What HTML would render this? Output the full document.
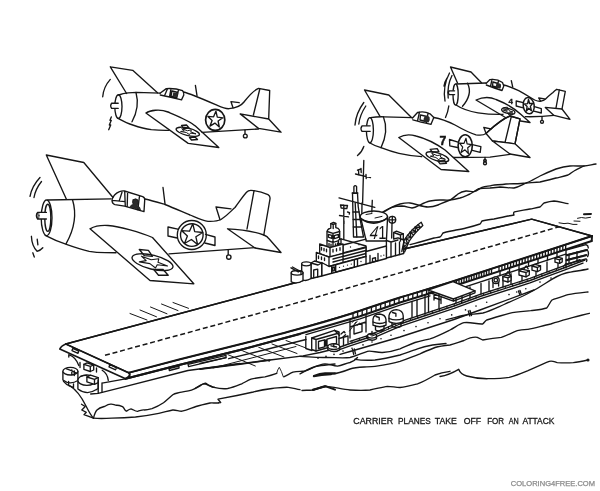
<!DOCTYPE html>
<html><head><meta charset="utf-8"><title>Carrier Planes Take Off For An Attack</title>
<style>
html,body{margin:0;padding:0;background:#fff;}
body{width:600px;height:491px;overflow:hidden;position:relative;font-family:"Liberation Sans",sans-serif;}
svg{position:absolute;left:0;top:0;display:block;will-change:transform;}
.l{fill:none;stroke:#161616;stroke-width:1.35;stroke-linecap:round;stroke-linejoin:round;}
.w{fill:#fff;stroke:#161616;stroke-width:1.35;stroke-linecap:round;stroke-linejoin:round;}
.t{stroke-width:2;}
.h{stroke-width:1;}
.cap{font-family:"Liberation Sans",sans-serif;font-size:9.4px;fill:#141414;stroke:#141414;stroke-width:0.3px;}
.wm{font-family:"Liberation Sans",sans-serif;font-size:7.7px;fill:#8a8a8a;stroke:#8a8a8a;stroke-width:0.25px;}
.num{font-family:"Liberation Sans",sans-serif;font-weight:bold;fill:#141414;}
</style></head><body>
<svg width="600" height="491" viewBox="0 0 600 491">
<rect width="600" height="491" fill="#fff"/>

<!-- ===== PLANE A (top-left) ===== -->
<g id="planeA" class="l">
<path d="M110.3,66.8 L132.7,70.3 L157.5,92.7 M110.3,66.8 L126.6,93.5"/>
<path d="M110.3,79.4 Q103.5,87 102.7,96.8"/>
<path d="M111.3,117 L110,120.3 L111.3,120.3 L109.3,125 L110.7,125 L108.7,129.7"/>
<ellipse cx="118.4" cy="106.6" rx="3.6" ry="11.8"/>
<path class="w" d="M118.2,103.2 L111.6,103.2 Q109.8,105.8 111.6,108.4 L118.2,108.4"/>
<path d="M136,92.5 Q140,107 132,121.8"/>
<path d="M118.7,95 Q123,93.3 128,92.9 L136.5,92.4 L160,93.2"/>
<path d="M160,93.2 L166.3,88.6 Q175,88 182.6,90.7 Q184.2,92.5 183.8,95 L181.6,99.6 M160.2,95 Q170,97 181.6,99.8 M167.5,88.8 L164.5,95.8 M171,88.6 L169.5,96.8 M178.5,89.8 L176.5,98.5 M172,91 L178,92.5 L176.8,97.5 L171,96.2 Z"/>
<path d="M173.3,92.2 L178,93.3 L177,97.2 L172.5,96.2 Z" fill="#2a2a2a" stroke="none"/>
<path d="M183.5,92 C190,93.5 205,100 215.7,104.7 C221,107 225,109 229,108.7 C236,108 241,106 244,102 C248,97 253,90.5 258.5,88.4 L269.7,90.5 L268.7,118.5"/>
<path d="M259.8,89 L253.4,115"/>
<path d="M231,101.7 L239.2,102.7 M231,101.7 L233,107.8"/>
<path d="M240.2,113.9 L268.7,119 L281,132.2 L258.5,128.4 Z"/>
<path d="M118,118.3 C124,121.5 128,123.5 132.7,125 C140,127.5 146,129 151.3,129.7 C158,130.4 164,130.5 169,130.4"/>
<path d="M202,132.3 L258.5,129"/>
<path d="M245,130.2 L245,134"/><circle cx="245.3" cy="136" r="1.9"/>
<ellipse cx="215.2" cy="119.9" rx="9.6" ry="10.5" stroke-width="1.7"/>
<path d="M215.9,111.2 L217.3,117.1 L222.9,117.8 L218.1,121.0 L219.3,127.0 L214.9,123.1 L210.0,126.1 L212.1,120.5 L207.9,116.4 L213.6,116.8 Z"/>
<path d="M145.9,113 C150,110.3 160,108.8 168,112 C180,117 190,121 195.4,126.1 L218.8,147.5 L188.2,143.4 Z"/>
<path d="M195.4,85.4 L197,95.6"/>
<!-- wing insignia -->
<path d="M181.5,125.5 L186.5,125 L189,128 L183.5,128.5 Z M189.5,137.5 L195,137 L197.5,139.5 L191.5,140 Z"/>
<ellipse cx="187.8" cy="131.8" rx="12" ry="3.7" transform="rotate(14 187.8 131.8)"/>
<path d="M191.2,130.2 L190.8,131.9 L196.0,133.9 L190.4,133.1 L189.5,134.7 L186.4,132.5 L180.6,131.5 L184.3,130.9 L181.7,128.7 L187.1,130.6 Z" stroke-width="1"/>
</g>

<!-- ===== PLANE B (large left) ===== -->
<g id="planeB" class="l">
<path d="M46.3,155 L83.8,162.5 L113,197.5 M46.3,155 L66.3,199"/>
<path d="M40,177.5 Q32,186 30,196.3 M41.5,181.5 Q35.5,189 34,197.5"/>
<path d="M31.4,236.3 Q31.8,246 37.1,251.3 Q40.5,250.5 42.8,247.8 M37.2,239.2 l0.7,5.6 M32.8,252.8 l1.5,4.2"/>
<ellipse cx="46.6" cy="217.8" rx="5.4" ry="17.8"/>
<ellipse cx="47.8" cy="217.8" rx="3" ry="13.6"/>
<path class="w" d="M46.4,212.4 L37.6,212.4 Q35.2,215.7 37.6,219 L46.4,219"/><ellipse cx="38" cy="215.7" rx="1" ry="3.2" stroke-width="0.9"/>
<path d="M72.5,199.8 Q79,221 66,243.9"/>
<path d="M47.8,200 L111,198.8"/>
<path d="M112,200 C112.5,196.5 116,193 119,191.8 C121,191 123,190.8 124.5,191 L142.7,196.7 Q145.2,197.8 144.7,200.2 L144,211.5 M112,200 C112,202.5 113,204 115,204.6 L124.5,206.2 L144,211.6 M124.7,191.2 L125.3,206.2 M122,192.3 L119.3,200.6 M112.3,200.3 L125,201.6 M127.6,192.3 L127.2,206.6 M139.5,196 L137.8,210"/>
<path d="M133,199.8 Q135.8,197.6 138,200 Q139.3,203 137.3,205.4 Q140,206.5 140.5,209.8 L130,207 Q130.8,204.6 133.2,204.4 Q131.8,202 133,199.8 Z" fill="#2a2a2a" stroke-width="0.8"/>
<path d="M145,199 C152,200.5 160,203 165,204.5 C175,208.5 185,213 190,215 C197,218 203,221 208,221.3 C214,221.5 218,221 221,219.5 C228,215 232,210 235,207.5 C239.5,201.5 243.5,195.5 246.5,192.3 Q248.3,190.3 251,190.4 C257,190.8 263.5,192.6 268,194.6 Q270.4,196 270,198.8 L263.8,235"/>
<path d="M254,190.8 L247,229"/>
<path d="M216,207 L231,208.8 M216,207 L220,219.8"/>
<path d="M227.5,228.8 Q248,229.5 263.8,235 Q267.5,236.5 269,238.8 L281,252.5 L255,248 Z"/>
<path d="M45.2,235.4 C52,239 60,242.5 67.8,244.9 C75,247.4 82,249.6 89.2,251.3 C95,252.3 100,252.6 105,252.7 L116,252.7"/>
<path d="M169,253.8 L255,247.6"/>
<path d="M228.2,250 L228.2,254.5"/><circle cx="228.8" cy="257" r="2.2"/>
<circle cx="191.8" cy="235" r="14.5"/><circle cx="191.8" cy="235" r="11.3"/>
<path d="M192.8,223.8 L194.7,231.6 L202.7,232.5 L195.9,236.8 L197.6,244.6 L191.4,239.5 L184.5,243.5 L187.4,236.0 L181.5,230.6 L189.5,231.2 Z"/>
<path d="M177.8,229.2 L168,227 L168,236 L177.2,238 M205.5,234.3 L215,237 L215,245.5 L204.8,243"/>
<path d="M163,187.5 L165,203.8"/>
<path d="M90,228.8 C95,226 100,225 108,225.5 C120,226.5 140,232 152.5,237.5 L193.8,283.8 L150,280.5 Z"/>
<path class="w" d="M139.3,249.5 L148.4,250.3 L152.5,256.3 L144.4,255.7 Z M153.6,269.3 L162.8,269.3 L168.2,275.2 L158.5,275.2 Z"/>
<ellipse cx="152.5" cy="262.2" rx="21" ry="7" transform="rotate(13.7 152.5 262.2)"/>
<path d="M158.8,258.8 L158.0,262.3 L167.5,266.0 L157.2,264.7 L155.5,268.0 L149.9,263.6 L139.3,261.9 L146.2,260.6 L141.4,256.2 L151.2,259.8 Z" stroke-width="1.1"/>
</g>

<!-- ===== PLANE D (top-right, "4") ===== -->
<g id="planeD" class="l">
<path d="M450.5,67 L471,72 L481.5,82.8 M450.5,67 L457.5,83"/>
<path d="M449.5,73 Q442.5,86 445,101 M452,75.5 Q446.8,86 448.2,98 M447,78 Q444.5,82 444,86"/>
<path d="M448.8,106 Q448,112 445.5,117.5"/>
<ellipse cx="455.6" cy="94.5" rx="2.6" ry="10.6"/>
<path class="w" d="M454.6,90.8 L449.2,90.8 Q447.4,92.7 449.2,94.6 L454.6,94.6"/>
<path d="M467.5,83.2 Q473,94 462.5,106.3"/>
<path d="M456,84 L486,83"/>
<path d="M486,83.4 L490,79.6 Q497,78.6 502.5,82.5 L503.8,86 L502,90.5 M486.3,85 Q494,88 502,90.5 M492,79.5 L490.5,86.5 M498.5,80.5 L497,89 M493,82 L498,83.5 L497.5,87.5 L492.5,86 Z"/>
<path d="M496.6,83.6 Q499.4,82.8 501,84.6 Q501.4,87 500.2,88.8 L495.8,87.6 Q495.6,85.2 496.6,83.6 Z" fill="#2a2a2a" stroke="none"/>
<path d="M503.8,85 C510,86.5 516,89.5 520,91.3 C526,94.5 531,98 534.7,100 C537,101 539,101.5 541,101.2 C543,100.8 544.5,100 545.3,99.3 C548,96.5 550.5,94.5 552.7,92.7 C554,91.3 555.5,90 556.7,89.3 L565.3,91.3 L562,109"/>
<path d="M559.3,90 L556,107.8"/>
<path d="M511.3,80.7 L512.7,86.9"/>
<path d="M538.7,98 L544.7,98.8 M538.7,98 L540.7,101.2"/>
<path d="M545.3,107.4 L562,109 L570,119.3 L554,115.4 Z"/>
<path d="M456,105 C462,109 470,111.5 478,112.8 C486,114 494,114.5 503,114.3"/>
<path d="M525.3,116.7 Q540,117 554,115.4"/>
<path d="M542,117 L542,120.4"/><circle cx="542" cy="121.8" r="1.5"/>
<ellipse cx="528.7" cy="105.7" rx="5.5" ry="8.2" transform="rotate(-8 528.7 105.7)" stroke-width="1.5"/>
<path d="M528.5,99.3 L529.6,103.5 L532.7,103.4 L530.4,106.4 L531.4,110.7 L528.8,108.3 L526.4,111.1 L527.1,106.6 L524.5,104.0 L527.6,103.7 Z"/>
<path d="M523.4,102.6 L516.2,101 L516.2,106 L523.2,107.8 M534.4,106.7 L541.3,108.6 L541.3,113 L533.8,111.2"/>
<path d="M476,100 C482,97.3 490,96.8 496,99.5 C505,103 515,109 521,114.5 L530,122.5 L508,119 Z"/>
<path d="M503.8,107.6 L507.4,107.2 L508.6,109 L505,109.4 Z M508,113.2 L511.8,112.9 L513,114.6 L509.4,114.9 Z" stroke-width="1"/>
<ellipse cx="508.3" cy="111" rx="6.8" ry="2.5" transform="rotate(15 508.3 111)"/>
<path d="M503.5,110 L507,110.4 L508.5,109.2 L509.5,111 L513,112 L509.5,112.2 L508.5,113 L507.2,111.8 Z" stroke-width="0.9"/>
</g>
<text class="num" x="508.4" y="104" font-size="8" stroke="#141414" stroke-width="0.3">4</text>

<!-- ===== PLANE C (middle-right, "7") ===== -->
<g id="planeC" class="l">
<path d="M364.5,90 L388.8,95 L411.5,117.5 M364.5,90 L380,116.3"/>
<path d="M363.8,102.5 Q356,113 355,125 M365.8,106 Q359.8,115 358.8,124"/>
<path d="M363.8,146.5 Q362,152 357.5,155.5"/>
<ellipse cx="369.9" cy="130.2" rx="3.5" ry="12.6"/>
<path class="w" d="M370.2,125.8 L362,125.8 Q360,128.5 362,131.3 L370.2,131.3"/>
<path d="M383.4,116.8 Q389,131 381,147.7"/>
<path d="M370.4,117.6 Q377,116.6 384.2,116.8 L412.5,117.6"/>
<path class="w" d="M486,133.5 C492,128 500,120 510,116 L520,118.8 L515,143.8 L492.5,141 Z"/>
<path d="M412.5,118 L417.5,112.5 Q424,110.8 430,113.8 L433.8,117.5 L431,124.3 M412.8,119.8 Q420,122 431,124.3 M419.5,112.2 L417.5,121 M428,113 L426.5,123.2 M420.5,115 L427,116.5 L426,121.5 L420,120 Z"/>
<path d="M424.6,116.4 Q427.5,115 429.6,117.2 Q430.4,120 428.6,122.6 L423.6,121.4 Q423.2,118.4 424.6,116.4 Z" fill="#2a2a2a" stroke="none"/>
<path d="M433.8,117.5 C440,118.5 448,121.5 455,125 C462,129 470,133 476,134.8 C480,135.5 484,135 486,133.5 C492,128 500,120 510,116 L520,118.8 L515,143.8"/>
<path d="M511.3,116.6 L505,142.5"/>
<path d="M483.8,127.5 L491,128.8 M483.8,127.5 L486,133.3"/>
<path class="w" d="M492.5,141 L515,143.8 L530,157.5 L510,154 Z"/>
<path d="M369.5,142.8 C373,145 377,146.5 381,147.7 C387,150 393,152 398.9,153.4 C406,155 414,156.2 421.7,156.7"/>
<path d="M452,157.5 L490,157.2 L510,154.3"/>
<path d="M485,157.4 L485,161"/><circle cx="485" cy="160.6" r="1.3"/><circle cx="485" cy="163.2" r="1.5"/>
<ellipse cx="465.2" cy="145.8" rx="7.1" ry="11" stroke-width="1.6"/>
<path d="M466.0,138.3 L467.1,143.8 L471.5,144.7 L467.7,147.8 L468.4,153.5 L465.0,149.8 L461.1,152.5 L462.7,147.1 L459.5,143.1 L464.0,143.4 Z" stroke-width="1.2"/>
<path d="M458,142.1 L449.5,139.5 L449.8,145.8 L457.4,147.5 M472.3,144.6 L480.9,146.7 L480.2,152.3 L472.3,150.4"/>
<path class="w" d="M398.8,137.5 C403,135 410,134.3 416,136 C428,139 438,145 445,150 L468.8,171.5 L441,169.5 Z"/>
<path d="M430.2,149.3 L437.2,148.7 L438.9,151.6 L432.5,152.2 Z M437.8,160.9 L444.8,160.6 L446.5,163.3 L440.1,163.8 Z"/>
<ellipse cx="437.4" cy="156.8" rx="11.8" ry="3.9" transform="rotate(17 437.4 156.8)"/>
<path d="M440.9,155.2 L440.4,157.1 L445.4,159.3 L439.9,158.3 L438.9,159.9 L435.9,157.5 L430.3,156.2 L434.0,155.7 L431.6,153.3 L436.8,155.5 Z" stroke-width="1"/>
</g>
<text class="num" x="439.6" y="144.6" font-size="12.2" stroke="#141414" stroke-width="0.5">7</text>


<!-- ===== WAKE / HORIZON LINES ===== -->
<g id="wake" class="l" stroke-width="1.15">
<path d="M381,213 C384,211 387,209.5 390,208 C393,206.5 396.5,205 400,204 C403.5,203.2 407,202.8 410,203 C413,203.4 415.5,204.3 418,205 C421.5,206 425,207 428,207 C431.5,207 435,206.2 438,205 C442,203.3 446,201.5 450,200 C453,198.5 455.5,196 458,194 C460.5,192.3 463,191.4 466,191 C469,190.8 471.5,191.8 474,191.6 C477,191 479.5,188.6 482,187.3 C486,186 489,186.2 492,185.3 C497,184.8 501,184.6 506,184 C513,183.6 520,184 526,183 C531,181.3 535.5,178.3 540,176 C545.5,173.4 551,171 556,169 C561,167.4 565.5,166.4 570,166 C575,165.8 580,166.2 584,166 C588,165.6 592,164.6 596,164"/>
<path d="M384,212 C387,210 389.5,208.4 392,207.4 C395.5,206.3 399,206 402,206 C405.5,206.3 409,207.6 412,208 C415,207.8 417.5,206.3 420,205 C423.5,203.2 427,201.6 430,201 C433.5,200.4 437,200 440,200 C443.5,200 447,200.2 450,200 C453.5,199.6 457,198.8 460,198 C463.5,196.8 467,195.2 470,194 C473,192.6 475.5,190.4 478,189 C482,188 486,188 490,188 C493.5,187.6 497,187.2 500,187 C505,187 510,188.2 514,188 C518.5,187 522,184.8 526,183 C531,182.6 535.5,182.6 540,182 C545.5,180.8 551,179.6 556,178 C560.5,177 564.5,176.4 568,175 C570.5,173.8 572,172 574,171 C577.5,169 581,167.5 584,166"/>
<path d="M410,244.6 C413,243.6 417,243 420,242 C425,240.6 429,239.4 434,238 C436,237.6 438,237.5 440,237 C441.5,236 442,234.2 443,233 C447,231.6 452,231 456,230 C459.5,229.4 463,228.8 466,228 C471,226.8 476,225.4 480,224 C481,223 481.3,221.8 482,221 C486,220.2 490,219.6 494,219 C499,218 504,217 508,216 C510,215.7 512,215.4 514,215 C513.2,213 513.5,212.3 514.5,211.8 C520,210.6 525,210 530,209 C533.5,208.3 537,207.8 540,207 C541.8,205.5 542.6,204 544,203 C547.5,202 551,201.2 554,201 C559,201.3 564,203 568,203.6"/>
<path d="M559,222.8 l5,0.8 l4,-0.4 l5,1.2 l4,0 M577.5,218.3 l4,-0.8 l4,0.6 l5,-0.8 M574,221 l6,0.3" stroke-width="1"/>
<path d="M584,214.3 l7,-0.4" class="t"/>
</g>

<!-- ===== CARRIER DECK ===== -->
<g id="deck" class="l">
<!-- deck surface -->
<path class="w" stroke="none" d="M65.8,344 L300,281.5 L404,249 L531.7,219.2 L592,236 L454,281 L400,297.5 L350,314 L290,331.3 L240,344.3 L180,359.3 L129,372.8 Z"/>
<path d="M65.8,344 L300,281.5 M404,249 L531.7,219.2 L592,236"/>
<path d="M65.8,344 L128.5,372.8 M65.8,344 Q61,346 59.8,349 L125,378.6" stroke-width="1.7"/>
<path class="t" d="M129,372.6 L180,359.3 L240,344.3 C258,339.5 272,336.5 290,331.3 C310,326 330,320.5 350,314 C368,308 384,302.5 400,297.5 C418,292 436,287 454,281 L592,236"/>
<path class="t" d="M129,372.6 Q131.5,376 125.5,378.8 L180,364.8 L240,350 L300,334"/>
<path d="M72.8,348.4 L78.8,351.1 L78,353.3 L72,350.6 Z M109.8,364.6 L116.4,367.6 L115.6,369.9 L109,366.9 Z"/>
<!-- dashed centre line -->
<path d="M105,355.3 L300,302 L430,264 L559,226.8" stroke-dasharray="5 2.8" stroke-width="1.5" stroke-linecap="butt"/>
<!-- short deck lines -->
<path class="h" d="M130,313.5 L147,320 M140,310 L156.5,316.8 M150.5,307 L167,313.8 M161.5,304 L178,310.6 M173,302.5 L188.5,308.3"/>
</g>

<!-- ===== HULL SIDE ===== -->
<g id="hull" class="l">
<path class="t" d="M125.5,378.8 L180.0,364.8 L240.0,350.0 L300.0,333.8 L360.0,316.2 L400.0,302.5 L454.0,286.0 L565.0,249.8 L591.7,241.0"/>
<path class="t" d="M592,236 L591.7,241"/>
<path d="M456.5,281.0 L456.5,284.9 M459.0,280.2 L459.0,284.1 M461.5,279.4 L461.5,283.3 M464.0,278.5 L464.0,282.4 M466.5,277.7 L466.5,281.6 M469.0,276.9 L469.0,280.8 M471.5,276.1 L471.5,280.0 M474.0,275.3 L474.0,279.2 M476.5,274.5 L476.5,278.4 M479.0,273.6 L479.0,277.5 M481.5,272.8 L481.5,276.7 M484.0,272.0 L484.0,275.9 M486.5,271.2 L486.5,275.1 M489.0,270.4 L489.0,274.3 M491.5,269.6 L491.5,273.5 M499.0,267.1 L499.0,271.0 M501.9,266.2 L501.9,270.1 M504.8,265.2 L504.8,269.1 M507.7,264.3 L507.7,268.2 M510.6,263.3 L510.6,267.2 M513.5,262.4 L513.5,266.3 M516.4,261.5 L516.4,265.3 M519.3,260.5 L519.3,264.4 M522.2,259.6 L522.2,263.5 M525.1,258.6 L525.1,262.5 M528.0,257.7 L528.0,261.6 M530.9,256.7 L530.9,260.6 M533.8,255.8 L533.8,259.7 M536.7,254.8 L536.7,258.7 M539.6,253.9 L539.6,257.8 M542.5,252.9 L542.5,256.8 M545.4,252.0 L545.4,255.9 M548.3,251.1 L548.3,254.9 M551.2,250.1 L551.2,254.0 M554.1,249.2 L554.1,253.1 M557.0,248.2 L557.0,252.1 M559.9,247.3 L559.9,251.2 M562.8,246.3 L562.8,250.2 M565.7,245.4 L565.7,249.3"/>
<path d="M353.0,313.6 L353.0,318.0 M357.6,312.1 L357.6,316.6 M362.2,310.6 L362.2,315.1 M366.8,309.1 L366.8,313.6 M371.4,307.5 L371.4,312.0 M376.0,306.0 L376.0,310.4 M380.6,304.5 L380.6,308.8 M385.2,303.0 L385.2,307.3 M389.8,301.5 L389.8,305.7 M394.4,299.9 L394.4,304.1 M399.0,298.4 L399.0,302.5 M403.6,297.0 L403.6,301.1 M408.2,295.6 L408.2,299.7 M412.8,294.2 L412.8,298.3 M417.4,292.8 L417.4,296.9 M422.0,291.4 L422.0,295.5 M426.6,290.0 L426.6,294.1"/>
<path d="M306.0,334.6 L360.0,318.8 L400.0,305.1 L430.0,295.9"/>
<path d="M200.0,368.9 L270.0,360.0 L303.0,355.8 L320.0,352.5 L336.0,348.5 L350.0,343.5 L370.0,337.0 L400.0,324.0 L454.0,306.0 L480.0,296.5 L530.0,280.5 L546.0,274.5 L565.0,267.5 L585.0,260.0"/>
<path d="M336.0,350.9 L350.0,345.9 L370.0,339.4 L400.0,326.4 L454.0,308.4 L480.0,298.9 L530.0,282.9 L546.0,276.9 L565.0,269.9 L583.0,263.1"/>
<path d="M350.0,341.3 L370.0,334.8 L400.0,321.8 L454.0,303.8 L480.0,294.3 L530.0,278.3 L546.0,272.3 L565.0,265.3 L580.0,259.7"/>
<path d="M340.0,354.4 L350.0,351.5 L400.0,337.0 L454.0,319.5 L480.0,310.0 L534.0,290.0"/>
<path d="M412.0,301.4 L412.0,317.8 M417.0,299.9 L417.0,316.1 M425.0,295.7 L425.0,313.5 M428.5,294.6 L428.5,312.3 M439.0,293.2 L439.0,308.8 M456.0,291.5 L456.0,303.1 M462.0,289.6 L462.0,300.9 M470.0,287.0 L470.0,298.0 M481.0,283.4 L481.0,294.0 M489.0,280.8 L489.0,291.4 M503.0,276.2 L503.0,286.9 M511.0,273.6 L511.0,284.4 M522.0,270.0 L522.0,280.9 M536.0,265.5 L536.0,276.1 M547.0,261.9 L547.0,271.9 M558.0,258.3 L558.0,267.9 M569.0,254.7 L569.0,263.8 M577.0,252.0 L577.0,260.8"/>
<path class="h" d="M352.0,340.7 L352.0,342.9 M359.3,338.3 L359.3,340.5 M366.6,335.9 L366.6,338.1 M373.9,333.1 L373.9,335.3 M381.2,329.9 L381.2,332.1 M388.5,326.8 L388.5,329.0 M395.8,323.6 L395.8,325.8 M403.1,320.8 L403.1,323.0 M410.4,318.3 L410.4,320.5 M417.7,315.9 L417.7,318.1 M425.0,313.5 L425.0,315.7 M432.3,311.0 L432.3,313.2 M439.6,308.6 L439.6,310.8 M446.9,306.2 L446.9,308.4 M454.2,303.7 L454.2,305.9 M461.5,301.1 L461.5,303.3 M468.8,298.4 L468.8,300.6 M476.1,295.7 L476.1,297.9 M483.4,293.2 L483.4,295.4 M490.7,290.9 L490.7,293.1 M498.0,288.5 L498.0,290.7 M505.3,286.2 L505.3,288.4 M512.6,283.9 L512.6,286.1 M519.9,281.5 L519.9,283.7 M527.2,279.2 L527.2,281.4 M534.5,276.6 L534.5,278.8 M541.8,273.9 L541.8,276.1 M549.1,271.2 L549.1,273.4 M556.4,268.5 L556.4,270.7 M563.7,265.8 L563.7,268.0 M571.0,263.1 L571.0,265.3 M578.3,260.3 L578.3,262.5"/>
<path d="M456.0,289.9 L565.0,254.4 L566.0,254.1"/>
<path d="M500.0,271.3 L500.0,275.6 M509.5,268.2 L509.5,272.5 M519.0,265.1 L519.0,269.4 M528.5,262.0 L528.5,266.3 M538.0,258.9 L538.0,263.2 M547.5,255.8 L547.5,260.1 M557.0,252.7 L557.0,257.0"/>
<g fill="#141414" stroke="none"><circle cx="318" cy="358.3" r="0.8"/><circle cx="326" cy="356.4" r="0.8"/><circle cx="334" cy="354.4" r="0.8"/><circle cx="343" cy="351.1" r="0.8"/><circle cx="352" cy="348.3" r="0.8"/><circle cx="363" cy="344.9" r="0.8"/><circle cx="372" cy="342.0" r="0.8"/><circle cx="381" cy="338.8" r="0.8"/><circle cx="391" cy="335.2" r="0.8"/><circle cx="404" cy="330.6" r="0.8"/><circle cx="416" cy="326.6" r="0.8"/><circle cx="428" cy="322.7" r="0.8"/><circle cx="440" cy="318.8" r="0.8"/><circle cx="451.7" cy="314.9" r="0.8"/><circle cx="465.5" cy="309.9" r="0.8"/><circle cx="476" cy="306.1" r="0.8"/><circle cx="486.7" cy="302.3" r="0.8"/><circle cx="509" cy="294.6" r="0.8"/><circle cx="516.7" cy="292.0" r="0.8"/><circle cx="525.8" cy="288.8" r="0.8"/><circle cx="540" cy="282.1" r="0.8"/><circle cx="551" cy="278.1" r="0.8"/></g>
<path d="M352.5,349.5 l1.2,4.8 M354.3,349 l1.2,4.8 M468.3,311 l1.5,5 M470,310.5 l1.5,5 M518.5,291 l1.2,3.6 M520,290.5 l1.2,3.6"/>
</g>
<!-- ===== HULL DETAILS ===== -->
<g id="hulldetail" class="l">
<!-- shadow grid under overhang (stern-mid) -->
<path d="M228.7,358.7 L280,346 L306,339.5 M200,363.3 L226,357.6 M200,369.3 L240,364.3 L270,360"/>
<path d="M228,354.7 L255.3,366 M242.7,350.9 L269.3,361.3 M258.7,347.3 L284,357 M272,344 L297,353.5 M286,340.5 L306,348" class="h"/>
<path d="M213,368 L296,346.5" class="h"/>
<!-- hangar opening / boxes -->
<path d="M305.8,336.5 L305.8,348.5 M305.8,348.5 L312,350.5"/>
<path class="w" d="M311.7,338 L311.7,349.5 L316,351 L339,344.5 L339,332 L334.5,330.3 Z"/>
<path d="M311.7,338 L316,339.5 L339,333 M316,339.5 L316,351 M318.5,341.5 L324.5,339.8 L324.5,346.8 L318.5,348.5 Z M327,339.2 L336.5,336.5 L336.5,343.3 L327,346 Z M325.8,340 L325.8,346"/>
<path d="M334.5,330.3 L339.5,335.5 M341,334 l3,-2.5 l1,1.2 M343,337 l2.5,-2.2"/>
<path d="M339,338.5 L348,336 L348,343 M343.5,337.5 L343.5,345.5"/>
<!-- tub 1 -->
<path class="w" d="M327.8,346.8 L327.8,349.5 Q333.8,353.8 339.8,349.6 L339.8,346.8 Z"/>
<ellipse class="w" cx="333.8" cy="346.6" rx="6" ry="2.9"/>
<path d="M331,345.8 L336.5,347 M333.8,344.3 L333.8,347"/>
<!-- tub 2 -->
<path class="w" d="M367.6,336 L367.6,338.6 Q372,341.8 376.5,338.7 L376.5,336 Z"/>
<ellipse class="w" cx="372" cy="335.8" rx="4.5" ry="2.3"/>
<path d="M372,331.5 L372,336 M370,334.6 L374,335.4"/>
<!-- mid structure lines -->
<path d="M350,320.5 L350,338 M350,327 L366,322 M354,325.8 L354,334 L362,331.6 L362,323.4 M366,315.5 L366,332"/>
<path d="M352,322.5 l2.6,-2.4 M354.6,324 l2.6,-2.4 M357.2,325.3 l2.4,-2.2 M349.5,331 L356,322" class="h"/>
<!-- turret B -->
<path class="w" d="M373,319 Q373.8,314.2 379.5,314 Q385.5,314.6 386,319.5 L386,325.2 Q380,328.2 373,325.2 Z"/>
<path d="M373,322 Q380,325 386,322 M376,316.5 l3.2,1 l0,2.6 M375.5,326.2 L375.5,330 Q380,332.2 384,330 L384,326"/>
<!-- turret C (bigger, near 390-403) -->
<path class="w" d="M389,315.5 Q390,310 396.5,309.6 Q403,310.3 403.2,315.8 L403.2,321.6 Q396.5,325.2 389,321.6 Z"/>
<path d="M389,318.3 Q396,321.5 403.2,318.3 M392.5,312.5 l3.4,1 l0,2.8 M392,323 L392,326.5 Q396.5,328.5 401,326.3 L401,322.6"/>
<!-- elevator region posts handled in gen -->
<!-- elevator -->
<path class="w" d="M428,290 L453,281.7 L475,290.8 L453.4,299 Z"/>
<path d="M428.3,292 L453.4,301.2 L475,292.8 M453.4,299 L453.4,301.2 M475,290.8 L475,292.8 M434,294.2 L434,300 M441,296.8 L441,303.5 M434,297.5 L441,300"/>
<!-- director circle -->
<circle class="w" cx="495.8" cy="280.2" r="3.4"/><circle cx="495.8" cy="280.2" r="1.8"/>
<path d="M493,283 L493,287.5 M498.6,282.5 L498.6,286"/>
<!-- boxes on gallery (right) -->
<path class="w" d="M519,270.8 L522,269.2 L529.3,270.8 L529.3,275 L526,276.8 L519,275 Z"/><path d="M519,270.8 L526,272.5 L529.3,270.8 M526,272.5 L526,276.8"/>
<path class="w" d="M532,266 L535,264.4 L540.5,265.8 L540.5,270 L537.4,271.6 L532,270.2 Z"/><path d="M532,266 L537.4,267.5 L540.5,265.8 M537.4,267.5 L537.4,271.6"/>
<path class="w" d="M555,258.6 L557.6,257.2 L562.2,258.4 L562.2,262 L559.6,263.4 L555,262.2 Z"/><path d="M555,258.6 L559.6,259.8 L562.2,258.4 M559.6,259.8 L559.6,263.4"/>
<path class="w" d="M503,276.5 L506,275 L511,276.3 L511,280.5 L508,282 L503,280.7 Z"/><path d="M503,276.5 L508,277.8 L511,276.3 M508,277.8 L508,282"/>
<path d="M505.5,274.8 l2.5,-3.2 l2.5,3.8 M524,268.5 l2.2,-2.6 l2,3"/>
<!-- bow flare -->
<path d="M566,250 L586,244.6 Q588.5,245.5 588.2,248 M566.5,254.8 L587,249.6 Q589.6,252.5 587.6,256.6 M566,259.8 L586.5,254.8 M565,264.5 L586,258.8 Q587.5,259.5 586.5,261.5 M566,250 L566,268" />
<path class="t" d="M567,255.2 L587,250 M566.5,260.2 L586,255.2"/>
</g>

<!-- ===== ISLAND ===== -->
<g id="island" class="l">
<!-- tall mast -->
<path d="M363.8,160.5 L362.6,203"/>
<path d="M355.5,174 L370.5,177.6 M358.5,170 L358.8,175 M361,168.5 L361.2,172.5 M357.5,170.2 L361,169 M366,174.5 L366.2,178.5"/>
<!-- tower mast -->
<path class="w" d="M352.5,193.2 L353.5,237 L363.5,237 L360.2,219.7 L358.2,206.5 L357.5,193.2 Z"/>
<path class="w" d="M353.9,193 L353.9,186.6 Q355.2,184.6 356.6,186.6 L356.6,193"/>
<path d="M352.2,193 L357.8,193 M355.2,203 L356.8,237 M353,212 L359.2,212 M353.2,219.5 L360.2,219.5 M353.3,227 L361.6,227"/>
<path d="M362,203 L361.8,216"/>
<!-- long yard -->
<path d="M339,197.9 L374.8,207.3"/>
<!-- left small mast with flags -->
<path d="M343.8,205 L343.8,240 M340.5,205 L347.5,205.5 L346.8,208.5 L341.2,208 Z M339.5,215.5 L348.5,216.8 M347.5,212 l2,0.6 l-0.3,1.6 M344,221 l0,3"/>
<!-- funnel -->
<path class="w" d="M360.4,216.5 L366.2,241 L386.4,241 L387.6,216.5 Z"/>
<ellipse class="w" cx="373.8" cy="216.5" rx="13.6" ry="5.5"/>
<path d="M360.4,218.4 Q373.8,228 387.3,218.2" stroke-width="1.6"/>
<path d="M372.3,200.3 L371.8,212"/>
<path d="M366,214.5 l6,-1 M375,218 l7,-1.6" class="h"/>
<!-- radar -->
<circle class="w" cx="392.3" cy="219.8" r="3.4"/>
<path d="M392.3,216.4 L392.3,223.2 M389,219.8 L395.6,219.8 M392,223.2 L391.7,238"/>
<!-- right blocks -->
<path class="w" d="M386.4,240.5 L386.4,258 L403.7,253.5 L403.7,240 L398,237.8 L393.7,239 L393.7,232.5 L396.5,231.2 L403.3,233.8 L403.3,240"/>
<path d="M393.7,232.5 L400.5,235 L403.3,233.8 M400.5,235 L400.5,241 M386.4,240.5 L391,242 L398,240 M391,242 L391,257 M395.5,243 L395.5,255.5 M399.5,242 L399.5,254.5"/>
<!-- crane -->
<path d="M401.8,251.5 L404.2,240 Q411,229.5 421.2,222.2 L422.8,225.5 Q414,233.5 409,241.5 L404.6,252"/>
<path d="M403.4,246.5 L406.5,247.5 M404.2,242.5 L407.8,244 M405.5,238.5 L409.2,240.5 M407.5,235.2 L411,237.4 M409.8,232.2 L413.2,234.6 M412.3,229.5 L415.5,232 M415,227 L418,229.7 M418,224.6 L420.6,227.4 M403.4,246.5 L407.8,244 L405.5,238.5 L411,237.4 L409.8,232.2 L415.5,232 L415,227 L420.6,227.4"/>
<!-- bridge box + top -->
<path class="w" d="M327,232.5 Q327,229 330,228.3 L330.8,228 L330.8,223.6 L333.5,222.5 L335.8,223.4 L335.8,227.6 L338,228.3 Q339.7,229.5 339.7,232 L339.7,247.5 L333,249.5 L327,247.3 Z"/>
<path d="M330.8,223.6 L333.2,224.6 L335.8,223.4 M333.2,224.6 L333.2,228.5 M327.2,231.5 L333,233.3 L339.7,231.5 M333,233.3 L333,249.5 M328.3,234.3 L331.8,235.4 L331.8,238.3 L328.3,237.2 Z M334.3,235.6 L338.4,234.4 L338.4,237.4 L334.3,238.6 Z M327.3,240.5 L333,242.3 L339.7,240.3 M329,243.5 L329,246 M331,244.2 L331,246.7 M335.5,243.8 L335.5,246.5 M337.5,243.2 L337.5,246"/>
<!-- long deck house behind funnel (level with dots) -->
<path class="w" d="M338.5,240 L341,238.8 L366,246 L366,255.5 L340,263 L338.5,252 Z"/>
<path d="M338.5,243.5 L343,245 L366,239.2 M343,245 L343,253 L366,247 M341,238.8 L341,243.5"/>
<g fill="#141414" stroke="none"><circle cx="350.5" cy="247" r="0.7"/><circle cx="359" cy="244.8" r="0.7"/></g>
<!-- level 3 -->
<path class="w" d="M319.7,244 L330,247.5 L343,244 L343,253.5 L330,257.5 L319.7,253.7 Z"/>
<path d="M330,247.5 L330,257.5 M321.5,247.5 l0,2.5 M324,248.3 l0,2.5 M326.5,249.2 l0,2.5 M333,249.5 l0,2.5 M336.5,248.6 l0,2.5 M340,247.7 l0,2.5"/>
<!-- level 2 -->
<path class="w" d="M316.3,252.5 L329,257 L366,247.5 L366,256.5 L329,266.5 L316.3,262 Z"/>
<path d="M329,257 L329,266.5 M318.5,256 l0,2.5 M321.5,257 l0,2.5 M324.5,258 l0,2.5 M343,253.5 L343,262.5 M343,256.5 L366,250.5 M343,259.5 L366,253.5 M333,259 L343,256.3 M333,262 L343,259.4"/>
<!-- base -->
<path class="w" d="M321.7,262.5 L321.7,276 L386.4,258.5 L386.4,246 L366,251.5 L366,256.5 L329,266.5 Z"/>
<path d="M331.7,265.8 L331.7,273.3 M335.7,264.8 L335.7,272.2 L354.3,267.2 L354.3,259.8 M357.5,258.8 L357.5,266.2 M366,256.5 L366,264 M370,255.5 L370,262.8 L378,260.6 L378,253.3 M372.5,258.5 L372.5,262.2 L375.5,261.4 L375.5,257.7 Z M332.5,267.5 l1.8,-0.5 l0,3.6 l-1.8,0.5 Z"/>
<g fill="#141414" stroke="none"><circle cx="339.5" cy="267.3" r="0.65"/><circle cx="343.5" cy="266.2" r="0.65"/><circle cx="347.5" cy="265.1" r="0.65"/><circle cx="351.3" cy="264.1" r="0.65"/><circle cx="361" cy="261.5" r="0.65"/><circle cx="381" cy="256" r="0.65"/><circle cx="383.8" cy="255.2" r="0.65"/></g>
<!-- block 2 with door -->
<path class="w" d="M311,263 L314.5,261 L321.7,263 L321.7,276 L311,278.5 Z"/>
<path d="M311,263 L318,265 L321.7,263 M313.7,277.8 L313.7,270 L317.7,269.2 L317.7,277"/>
<!-- cylinder -->
<path class="w" d="M301.7,264 L301.7,279.5 Q306,281.8 311,278.5 L311,263.8 Z"/>
<ellipse class="w" cx="306.3" cy="263.8" rx="4.65" ry="2"/>
<!-- gun turret -->
<path class="w" d="M291.2,273 L291.2,281.8 Q297,284.5 303,280.5 L303,272.6 Z"/>
<ellipse class="w" cx="297.1" cy="272.8" rx="5.9" ry="2.3"/>
<path d="M291,267.8 L298.3,272 M292.5,267 L299.6,271 M298,271 L301,271.5 L301,274"/>
<!-- 41 -->
</g>
<text x="0" y="0" transform="translate(368.6,238.8) skewX(-16) scale(0.8,1)" font-family="Liberation Sans, sans-serif" font-size="18.5" fill="#141414">4</text><text x="0" y="0" transform="translate(378.2,238.6) scale(0.8,1)" font-family="Liberation Sans, sans-serif" font-size="18.5" fill="#141414">1</text>

<!-- ===== STERN ===== -->
<g id="stern" class="l" stroke-width="1.55">
<!-- brackets under stern edge -->
<path d="M68.8,354.6 L68.8,357 M69.5,354.9 Q76,357.5 78.8,365.5 M102.2,370.2 Q107.5,373.5 108.3,380.3"/>
<!-- boxes -->
<path class="w" d="M83.9,364.3 L87,362.9 L93.7,365 L93.7,370 L90.3,371.5 L83.9,369.3 Z"/>
<path d="M83.9,364.3 L90.3,366.4 L93.7,365 M90.3,366.4 L90.3,371.5"/>
<path d="M80,362.5 L80,367.5 M96.5,368 L96.5,372"/>
<!-- left tub -->
<path class="w" d="M62.9,371.3 L62.9,380 Q70,385.5 77.9,380.5 L77.9,371.3 Z"/>
<ellipse class="w" cx="70.4" cy="371.2" rx="7.5" ry="3.8"/>
<path d="M66,368.6 Q72,370.5 76.8,373.3 M71.8,369.8 L71.8,374.8 M74.3,370.8 L74.3,375.5"/>
<!-- right tub -->
<path class="w" d="M77.9,380.3 L77.9,389 Q87,395.8 95.9,389.8 L98.2,388.5 L98.2,380 Z"/>
<ellipse class="w" cx="86.9" cy="380.2" rx="9" ry="5.2"/>
<path class="w" d="M86.9,377 L90.5,375.2 L98.2,377.6 L98.2,382.6 L94.5,384.3 L86.9,381.8 Z"/>
<path d="M86.9,377 L94.5,379.4 L98.2,377.6 M94.5,379.4 L94.5,384.3"/>
<path d="M80.5,376.3 Q84,375.2 86.5,375.5"/>
<!-- small bracket at left below tub -->
<path d="M68.6,381.5 L68.6,385.3 L73.5,387.6 L73.5,384"/>
<!-- hull box lines -->
<path d="M98.2,380.5 L98.2,393.3 M102,383 L102,392.4 M102,383.2 L125.5,378.8"/>
<path d="M90.7,394 L98.2,393.3 L120,387.8 L188,370.5 L240,363.5"/>
<path d="M188,364.3 L226,355.4 L226,357.6 L188.6,366.6 Z M169,368.6 L179,366.2 L179,368 L169.4,370.5 Z"/>
<!-- stern hull curve -->
<path d="M63.5,381.3 Q66,384.5 70,386 C77,390 82,398 86,406 C88.5,411 91,415.5 93.5,418.2"/>
</g>

<!-- ===== WATER ===== -->
<g id="water" class="l" stroke-width="1.6">
<!-- foam at stern -->
<path d="M81.5,404.2 L85.2,406.5 L81.8,410 L86.3,412.3 L84,414.7 L93.5,418.2 C94.5,414 95.5,411.5 97,410 C99.5,407.6 102.5,407 105,406.3 C107,405 109,404 111,404.2 C113,403.8 115,405.5 117,405.2 C119,405.2 121,406 122.5,406.6 C124.5,408 124.5,410.5 126.3,411.2 C128,410.3 129.5,408.8 131,408.8 C133.5,409.5 135,411.5 137.8,411.3 C140,410.8 142,409.6 144.5,410 C147,410 149.5,409.3 152,408.6 C156,407.2 160,405.2 163.5,402.8 C167,400 170,397 172.8,394.8 C175,393.3 177.5,393.2 180,392.4 C184,391.6 188,391.2 191.5,390.1 C195,389 198,387 200.8,385.4 C202.5,384.3 204,383 205.5,383.2 C207.5,384 208.5,385.5 210.5,385.8 C212,386.8 213,387.5 214.5,387.3"/>
<path d="M93.5,418.2 C100,418.8 106,418.5 112,418.2 C120,418 128,417.6 135.5,417 C143,416.2 151,415 158.8,413.4 C164,412.4 168,410.8 172.8,410 C176,409.8 179,411.4 182,411.2 C187,410.2 191.5,408 196,406.5 C201,405 205.5,404 210,403 C213,402.5 215,403.5 218.5,402.8"/>
<!-- upper wave (mid) -->
<path d="M195,388.5 C198,386.5 201,384 204.3,383.8 C208,384.5 210.5,387 214,387.4 C219,388.6 223.5,389 227.7,388.5 C233,387.5 237.5,385.5 241.7,383.8 C245,382.2 248,380.3 251,379.2 C256,377.8 260.5,377.6 265,376.8 C269,375.8 273,374.6 276.7,373.3 M283.7,376.8 C287,375.5 290,373.4 293,372.2 C297,371.2 301,371.5 304.7,371 C309,369.8 312.5,367.6 316.3,366.3 C322,365 329,364.8 335,364"/>
<path d="M276.7,373.3 Q277.5,369.5 279.3,367.3 Q281.5,371 283.2,376.5" stroke-width="0.9"/>
<!-- lower wave (mid) -->
<path d="M218.5,402.8 L220.7,402.5 L218,399.2 L237,395.5 L253.3,392 C259,390.5 266,389.2 272,388.5 C278,388 283,387 288.3,387.3 C292,387.6 296,389 300,389.7"/>
<path class="t" d="M314,375.8 C318,374 322,373 326,373.2 L335,373.2 M312.8,389.8 L325.7,386.2 L335,389.6"/>
<!-- W1 hull wave -->
<path d="M300,356.3 C308,356.6 316,357.8 325,357.5 C334,357.3 342,358.4 350,357.5 C357,356 362,353 367.5,351.3 C372,350.5 377,352.8 382.5,352.5 C389,352 395,350.5 400,348.8 C405,346.8 410,344.3 415,342.5 C420,340.8 425,340 430,338.8 C437,336.6 444,333 450,330 C455,327.6 459,324 464,322.7 C470,321.6 477,324.5 482.7,324 C484.5,322.5 485,321 486.7,320 C494,317.6 502,315.5 509.3,313.3 C516,311.5 524,311.3 530.7,310.7 C536,310 542,309.6 546.7,308 C549,305.5 550,302 552,300 C557,297.8 563,296.3 568,294.7 C574,293.3 582,292.6 588,292"/>
<path d="M446,319.8 C452,318.5 458,316.5 463,315.5 C470,314 477,314.3 483,313 C490,311 497,307.5 504,304.5 C512,301 520,297.5 527,294 C534,290.5 540,287 546,283 C552,279 558,275 566,273 C573,271.5 581,270.5 588,269"/>
<!-- W2 -->
<path d="M300,373.8 C304,371.5 308,369.3 312.5,367.5 C317,365.8 321,364.2 325,363.8 C329,363.8 333,366 337.5,366.2 C342,365.3 346,363.3 350,362.5 C353,361.6 355.5,359.8 357.5,357.5"/>
<path d="M355,359.3 C361,360.3 368,360.4 375,360 C384,359 392,357 400,355 C406,353.2 412,350.8 417.5,348.8 C422.5,347 428,345.8 432.5,345 C437,344.3 442,343.8 446,343.5"/>
<!-- W3 -->
<path class="t" d="M313.8,376.3 C320,375 326,374.5 331,374.2"/>
<path d="M331,374.2 C338,373.6 345,371 350,369 C354,367.6 359,367.2 364,367 C369,366.8 372,366.8 375,366.3 C384,365 393,363.5 400,361.3 C407,358.8 414,356.2 420,353.8 C425,351.5 430,349.5 435,347.5 C440,346 445,345.5 450,345 C456,343.5 460,341.5 464,340.5 C470,337.5 473,336.5 477.3,337.3 L482.7,340 C489,338.8 495,337.8 501.3,337.3 C507,335.5 512,332.5 517.3,330.7 C521,329.7 525,329.5 528,329.3 C535,328 543,325.6 550.7,324 L554.7,322.7 C560,321 567,319 573.3,317.3 C579,316 584,314.5 589.3,313.3"/>
<!-- W4 -->
<path d="M302,390.5 C306,390.3 309,390.2 312.5,390 C317,389 321,387 325,386.3 C333,386.5 342,389.5 350,390 C357,390.4 364,390.5 370,390 C376,389 382,387 387.5,386.3 C392,386.3 396,387.6 400,387.5 C406,386.8 412,385.2 417.5,383.8 C424,381.5 430,378 435,375 C440,373 445,372 450,371.3"/>
<path class="t" d="M313,390 C317,389 321,387 325,386.3"/>
<path d="M440,376.5 C446,375.5 452,373.2 458.7,369.3 C460,373 463,375 466.7,376 C474,378 481,378.8 488,378.7 C495,378.6 503,378.3 509.3,377.3 C516,375.8 522,373.2 528,370.7 C535,367.6 542,364 549.3,361.3 C553,360.3 555,362.3 557.3,362.7 C563,363 568,363 573.3,362.7 C578,362 583,361 588,360"/>
<circle cx="588" cy="360" r="0.9" fill="#141414"/>
</g>

<g class="cap"><text x="353.3" y="423.6" textLength="39.8" lengthAdjust="spacingAndGlyphs">CARRIER</text><text x="398" y="423.6" textLength="32.7" lengthAdjust="spacingAndGlyphs">PLANES</text><text x="434.7" y="423.6" textLength="22.2" lengthAdjust="spacingAndGlyphs">TAKE</text><text x="463.75" y="423.6" textLength="17.45" lengthAdjust="spacingAndGlyphs">OFF</text><text x="487.2" y="423.6" textLength="16.9" lengthAdjust="spacingAndGlyphs">FOR</text><text x="508.8" y="423.6" textLength="10" lengthAdjust="spacingAndGlyphs">AN</text><text x="522.4" y="423.6" textLength="32.1" lengthAdjust="spacingAndGlyphs">ATTACK</text></g>
<text class="wm" x="510.8" y="485.8" textLength="84.2" lengthAdjust="spacingAndGlyphs">COLORING4FREE.COM</text>
</svg>
</body></html>
